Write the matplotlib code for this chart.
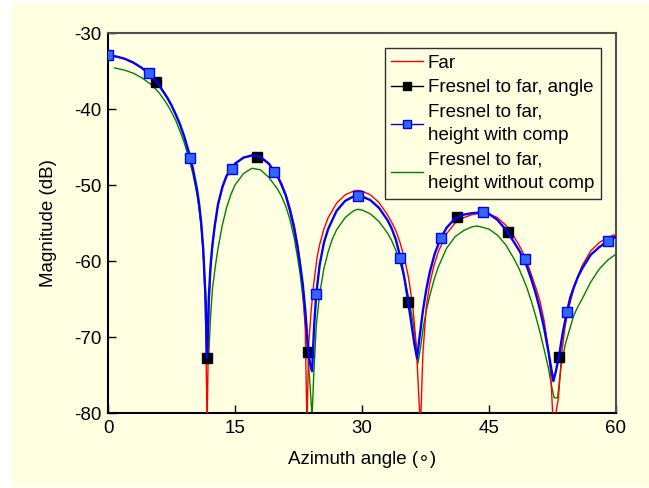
import numpy as np
import matplotlib
matplotlib.use("Agg")
from matplotlib import pyplot as plt
from matplotlib.lines import Line2D
from matplotlib.patches import Rectangle

plt.rcParams['font.family'] = ['Liberation Sans', 'DejaVu Sans']
plt.rcParams['axes.unicode_minus'] = False

# Far field (red)
far_ang = [0, 1, 2, 3, 4, 5, 6, 7, 7.5, 8, 8.5, 9, 9.5, 10, 10.5, 10.75, 11, 11.25, 11.5,
           11.7, 11.9, 12.1, 12.3, 12.6, 13, 13.5, 14, 15, 16, 17, 18, 19, 20, 20.5, 21,
           21.5, 22, 22.4, 22.7, 23, 23.3, 23.5, 23.7, 24, 24.3, 24.7, 25, 25.5, 26, 27,
           28, 29, 29.5, 30, 31, 32, 33, 33.5, 34, 34.5, 35, 35.5, 36, 36.4, 36.9, 37.2,
           37.6, 38, 38.5, 39, 40, 41, 42, 43, 44, 45, 46, 47, 48, 48.5, 49, 49.5, 50,
           50.5, 51, 51.5, 52, 52.3, 52.6, 53.2, 53.6, 54, 54.5, 55, 55.5, 56, 57, 58,
           59, 60]
far_mag = [-33.0, -33.1, -33.4, -33.9, -34.6, -35.6, -36.9, -38.6, -39.6, -40.8, -42.1,
           -43.7, -45.6, -47.8, -50.6, -52.5, -55.0, -58.8, -65.5, -82.0, -67.0, -61.5,
           -58.5, -55.6, -52.7, -50.4, -48.9, -47.2, -46.4, -46.2, -46.4, -47.2, -48.7,
           -49.8, -51.2, -53.0, -55.3, -57.8, -60.2, -63.5, -69.0, -82.0, -71.0, -66.5,
           -63.0, -59.5, -57.8, -55.8, -54.3, -52.4, -51.3, -50.8, -50.7, -50.8, -51.3,
           -52.3, -53.9, -54.9, -56.0, -57.6, -59.6, -62.2, -66.0, -71.0, -82.0, -72.0,
           -66.0, -63.0, -60.6, -58.8, -56.4, -55.0, -54.3, -53.9, -53.7, -53.8, -54.3,
           -55.3, -56.9, -57.8, -58.9, -60.2, -61.8, -63.4, -65.2, -67.8, -71.5, -75.0,
           -82.0, -78.0, -72.0, -68.5, -65.8, -63.7, -62.0, -60.6, -58.7, -57.6, -56.9,
           -56.5]

# Fresnel to far, height with comp (blue)
comp_ang = [0, 1, 2, 3, 4, 5, 6, 7, 7.5, 8, 8.5, 9, 9.5, 10, 10.5, 10.75, 11, 11.25, 11.5,
            11.7, 11.9, 12.1, 12.3, 12.6, 13, 13.5, 14, 15, 16, 17, 18, 19, 20, 20.5, 21,
            21.5, 22, 22.4, 22.7, 23, 23.3, 23.6, 23.85, 24.1, 24.35, 24.6, 25, 25.5, 26,
            27, 28, 29, 29.5, 30, 31, 32, 33, 33.5, 34, 34.5, 35, 35.4, 35.8, 36.2, 36.5,
            36.8, 37.2, 37.6, 38, 38.6, 39.3, 40, 41, 42, 43, 44.3, 45, 46, 47, 48, 48.5,
            49, 49.5, 50, 50.5, 51, 51.5, 52, 52.3, 52.6, 52.9, 53.3, 53.7, 54.2, 54.6,
            55, 55.5, 56, 57, 58, 59, 60]
comp_mag = [-32.9, -33.1, -33.4, -33.9, -34.6, -35.5, -36.8, -38.5, -39.5, -40.7, -42.0,
            -43.6, -45.5, -47.7, -50.5, -52.4, -54.9, -58.5, -64.5, -72.8, -65.0, -60.8,
            -58.2, -55.4, -52.5, -50.3, -48.8, -47.2, -46.4, -46.1, -46.3, -47.2, -48.8,
            -50.0, -51.4, -53.4, -55.8, -58.3, -60.5, -63.0, -66.5, -71.0, -73.5, -74.5,
            -68.5, -64.3, -60.5, -57.6, -55.8, -53.4, -52.1, -51.5, -51.4, -51.5, -52.0,
            -53.0, -54.6, -55.7, -57.2, -59.4, -62.2, -65.0, -68.0, -71.0, -72.8, -70.0,
            -66.5, -63.7, -61.5, -59.0, -57.0, -55.6, -54.4, -53.9, -53.7, -53.6, -53.8,
            -54.6, -55.9, -57.6, -58.5, -59.5, -60.8, -62.4, -64.2, -66.3, -68.8, -71.8,
            -73.8, -75.8, -74.5, -72.3, -69.5, -66.7, -64.8, -63.5, -62.1, -61.0, -59.2,
            -58.2, -57.4, -56.8]

# Fresnel to far, height without comp (green)
nocomp_ang = [0.8, 2, 3, 4, 5, 6, 7, 7.5, 8, 8.5, 9, 9.5, 10, 10.5, 10.75, 11, 11.25, 11.5,
              11.75, 11.9, 12.1, 12.35, 12.7, 13, 13.5, 14, 14.5, 15, 16, 17, 18, 19, 20,
              20.5, 21, 21.5, 22, 22.4, 22.7, 23, 23.3, 23.6, 23.9, 24.1, 24.3, 24.6, 25,
              25.5, 26, 26.5, 27, 28, 29, 29.5, 30, 31, 32, 33, 33.5, 34, 34.5, 35, 35.5,
              36, 36.3, 36.6, 36.9, 37.2, 37.6, 38, 38.5, 39, 40, 41, 42, 43, 43.6, 44, 45,
              46, 47, 48, 48.5, 49, 49.5, 50, 50.5, 51, 51.5, 52, 52.4, 52.7, 53.1, 53.5,
              54, 54.6, 55, 55.5, 56, 57, 58, 59, 60]
nocomp_mag = [-34.6, -34.9, -35.3, -35.9, -36.7, -37.8, -39.4, -40.4, -41.5, -42.9, -44.4,
              -46.3, -48.4, -51.2, -53.1, -55.5, -59.0, -63.5, -69.5, -72.5, -67.5, -63.5,
              -60.5, -58.3, -55.3, -53.0, -51.3, -50.0, -48.5, -47.8, -48.0, -49.0, -50.5,
              -51.5, -52.8, -54.6, -57.0, -59.6, -61.8, -64.6, -68.0, -72.0, -77.0, -80.5,
              -75.0, -68.5, -64.3, -61.0, -58.8, -57.1, -55.9, -54.3, -53.4, -53.2, -53.3,
              -53.8, -54.8, -56.3, -57.3, -58.6, -60.2, -62.2, -64.8, -67.8, -70.3, -73.5,
              -71.5, -69.0, -66.5, -64.6, -62.5, -60.8, -58.3, -56.8, -56.0, -55.5, -55.4,
              -55.5, -55.8, -56.6, -57.9, -59.8, -60.9, -62.2, -63.6, -65.3, -67.2, -69.3,
              -71.6, -74.0, -76.5, -78.0, -78.0, -74.0, -71.0, -68.7, -67.2, -66.0, -65.0,
              -62.8, -61.1, -59.9, -59.1]

# marker samples
angle_mk_ang = [5.7, 11.7, 17.6, 23.6, 35.4, 41.2, 47.2, 53.3]
angle_mk_mag = [-36.5, -72.8, -46.3, -72.0, -65.4, -54.2, -56.2, -72.6]
comp_mk_ang = [0, 4.8, 9.7, 14.6, 19.6, 24.6, 29.5, 34.5, 39.3, 44.3, 49.2, 54.2, 59.0]
comp_mk_mag = [-32.9, -35.3, -46.4, -47.9, -48.3, -64.3, -51.4, -59.6, -57.0, -53.6,
               -59.7, -66.7, -57.4]

xticks = [0, 15, 30, 45, 60]
yticks = [-80, -70, -60, -50, -40, -30]

bg = '#FFFFE1'
fs = 13.5
fig = plt.figure(figsize=(6.49, 4.88), dpi=100)
fig.patch.set_facecolor('white')
fig.patches.append(Rectangle((12 / 649, 1 / 488), 1 - 12 / 649, 484 / 488,
                             transform=fig.transFigure, facecolor=bg, edgecolor='none',
                             zorder=-10))
ax = fig.add_axes([108 / 649, 1 - 413 / 488, 508 / 649, 380 / 488])
ax.set_facecolor(bg)

ax.plot(nocomp_ang, nocomp_mag, color='#008000', lw=1, zorder=2)
ax.plot(far_ang, far_mag, color='#FF0000', lw=1, zorder=3)
ax.plot(angle_mk_ang, angle_mk_mag, ls='none', marker='s', ms=6.8, color='black', zorder=4)
ax.plot(comp_ang, comp_mag, color='#0000FF', lw=1.7, zorder=5)
ax.plot(comp_mk_ang, comp_mk_mag, ls='none', marker='s', ms=6.8,
        markerfacecolor='#3366FF', markeredgecolor='#0000FF', zorder=6)

ax.set_xlim(0, 60)
ax.set_ylim(-80, -30)
ax.set_xticks(xticks)
ax.set_yticks(yticks)
ax.tick_params(direction='in', length=6, width=1, labelsize=fs, top=False, right=False,
               pad=5)
for s in ['left', 'bottom']:
    ax.spines[s].set_color('black')
    ax.spines[s].set_linewidth(1.5)
for s in ['top', 'right']:
    ax.spines[s].set_color('#505050')
    ax.spines[s].set_linewidth(1.5)

ax.set_xlabel('Azimuth angle (\u2218)', fontsize=fs, labelpad=10)
ax.set_ylabel('Magnitude (dB)', fontsize=fs, labelpad=12)

handles = [
    Line2D([], [], color='#FF0000', lw=1),
    Line2D([], [], color='black', lw=1, marker='s', ms=6),
    Line2D([], [], color='#0000FF', lw=1, marker='s', ms=6, markerfacecolor='#3366FF'),
    Line2D([], [], color='#008000', lw=1),
]
labels = ['Far', 'Fresnel to far, angle', 'Fresnel to far,\nheight with comp',
          'Fresnel to far,\nheight without comp']
leg = ax.legend(handles, labels, loc='upper right', bbox_to_anchor=(0.970, 0.961),
                borderaxespad=0, fontsize=fs, fancybox=False, framealpha=1, facecolor=bg,
                edgecolor='#303030', handlelength=1.7, handletextpad=0.25,
                labelspacing=0.4, borderpad=0.35, numpoints=1)
leg.get_frame().set_linewidth(1)
for t in leg.get_texts():
    t.set_linespacing(1.5)

fig.savefig('out.png', dpi=100, facecolor=fig.get_facecolor())
